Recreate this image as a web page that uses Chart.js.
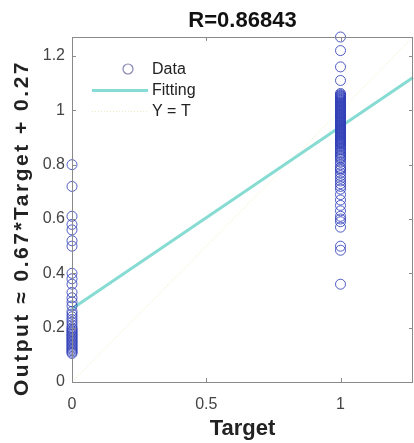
<!DOCTYPE html>
<html>
<head>
<meta charset="utf-8">
<script src="https://cdn.jsdelivr.net/npm/chart.js@4"></script>
<style>
  html, body { margin: 0; padding: 0; background: #fff; }
  #wrap { width: 414px; height: 443px; }
</style>
</head>
<body>
<div id="wrap"><canvas id="reg-chart" width="414" height="443"></canvas></div>
<script>
// values
const targetZero = 0;
const targetOne = 1;
const outputsAtZero = [0.80, 0.72, 0.61, 0.58, 0.56, 0.52, 0.50, 0.40, 0.38, 0.36, 0.33, 0.31,
  0.295, 0.28, 0.26, 0.25, 0.24, 0.23, 0.22, 0.21, 0.20, 0.195, 0.19, 0.185, 0.18, 0.175,
  0.17, 0.165, 0.16, 0.155, 0.15, 0.145, 0.14, 0.135, 0.13, 0.125, 0.12, 0.115, 0.11, 0.105];
const outputsAtOne = [1.27, 1.22, 1.16, 1.11, 1.062, 1.058, 1.055, 1.052, 1.05, 1.047, 1.045,
  1.042, 1.04, 1.037, 1.035, 1.032, 1.03, 1.027, 1.025, 1.022, 1.02, 1.017, 1.015, 1.012,
  1.01, 1.007, 1.005, 1.002, 1.0, 0.997, 0.995, 0.992, 0.99, 0.987, 0.985, 0.982, 0.98,
  0.977, 0.975, 0.972, 0.97, 0.967, 0.965, 0.962, 0.96, 0.957, 0.955, 0.952, 0.95, 0.947,
  0.945, 0.942, 0.94, 0.937, 0.935, 0.932, 0.93, 0.927, 0.925, 0.922, 0.92, 0.917, 0.915,
  0.912, 0.91, 0.907, 0.905, 0.902, 0.90, 0.897, 0.895, 0.892, 0.89, 0.887, 0.885, 0.882,
  0.88, 0.877, 0.875, 0.87, 0.865, 0.86, 0.855, 0.85, 0.845, 0.84, 0.835, 0.83, 0.825,
  0.82, 0.81, 0.80, 0.79, 0.785, 0.78, 0.77, 0.76, 0.75, 0.74, 0.73, 0.72, 0.71, 0.69,
  0.67, 0.65, 0.63, 0.61, 0.60, 0.59, 0.57, 0.50, 0.485, 0.36];
const fitX = [0, 1.27];
const fitY = [0.27, 1.121];
const identityX = [0, 1.27];
const identityY = [0, 1.27];
const axisMax = 1.27;
const titleText = 'R=0.86843';
const xTitle = 'Target';
const yTitle = 'Output \u2248 0.67*Target + 0.27';
const legendLabels = ['Data', 'Fitting', 'Y = T'];

const FONT = "'Liberation Sans', Arial, sans-serif";
const dataColor = 'rgba(50, 65, 185, 0.85)';
const fitColor = '#86dcd2';
const idColor = 'rgba(235, 225, 160, 0.7)';

const scatterPts = [
  ...outputsAtZero.map(v => ({ x: targetZero, y: v })),
  ...outputsAtOne.map(v => ({ x: targetOne, y: v }))
];

const fmt = v => String(+v.toFixed(2));

// MATLAB-ish box with inward ticks, legend and y title
const boxPlugin = {
  id: 'box',
  afterDraw(chart) {
    const { ctx, chartArea: a, scales } = chart;
    ctx.save();
    ctx.strokeStyle = '#8a8a8a';
    ctx.lineWidth = 1;
    ctx.strokeRect(a.left + 0.5, a.top + 0.5, a.right - a.left - 1, a.bottom - a.top);
    ctx.beginPath();
    scales.x.ticks.forEach(t => {
      const px = Math.round(scales.x.getPixelForValue(t.value)) + 0.5;
      ctx.moveTo(px, a.bottom); ctx.lineTo(px, a.bottom - 4);
      ctx.moveTo(px, a.top); ctx.lineTo(px, a.top + 4);
    });
    scales.y.ticks.forEach(t => {
      const py = Math.round(scales.y.getPixelForValue(t.value)) + 0.5;
      ctx.moveTo(a.left, py); ctx.lineTo(a.left + 4, py);
      ctx.moveTo(a.right, py); ctx.lineTo(a.right - 4, py);
    });
    ctx.stroke();

    // legend inside top-left
    const lx = a.left + 20, tx = a.left + 80;
    const rows = [a.top + 33, a.top + 53.5, a.top + 74.5];
    ctx.font = '16px ' + FONT;
    ctx.fillStyle = '#222';
    ctx.textBaseline = 'middle';
    legendLabels.forEach((lab, i) => ctx.fillText(lab, tx, rows[i]));
    ctx.strokeStyle = 'rgba(120, 120, 170, 0.9)';
    ctx.lineWidth = 1.2;
    ctx.beginPath();
    ctx.arc(a.left + 56, rows[0] - 1, 5, 0, Math.PI * 2);
    ctx.stroke();
    ctx.strokeStyle = fitColor;
    ctx.lineWidth = 3;
    ctx.beginPath();
    ctx.moveTo(lx, rows[1]); ctx.lineTo(tx - 4, rows[1]);
    ctx.stroke();
    ctx.strokeStyle = idColor;
    ctx.lineWidth = 1;
    ctx.setLineDash([1, 2]);
    ctx.beginPath();
    ctx.moveTo(lx, rows[2]); ctx.lineTo(tx - 4, rows[2]);
    ctx.stroke();
    ctx.setLineDash([]);

    // y axis title, spaced out like the original
    ctx.translate(22, 228);
    ctx.rotate(-Math.PI / 2);
    ctx.font = 'bold 21px ' + FONT;
    ctx.letterSpacing = '2.5px';
    ctx.textAlign = 'center';
    ctx.fillStyle = '#222';
    ctx.fillText(yTitle, 0, 0);
    ctx.restore();
  }
};

new Chart(document.getElementById('reg-chart'), {
  type: 'scatter',
  data: {
    datasets: [
      {
        label: legendLabels[2],
        data: identityX.map((x, i) => ({ x, y: identityY[i] })),
        showLine: true,
        borderColor: idColor,
        borderWidth: 1,
        borderDash: [1, 2],
        pointRadius: 0,
        order: 3
      },
      {
        label: legendLabels[1],
        data: fitX.map((x, i) => ({ x, y: fitY[i] })),
        showLine: true,
        borderColor: fitColor,
        borderWidth: 3,
        pointRadius: 0,
        order: 2
      },
      {
        label: legendLabels[0],
        data: scatterPts,
        pointStyle: 'circle',
        pointRadius: 5,
        pointBorderWidth: 1,
        borderColor: dataColor,
        backgroundColor: 'rgba(0,0,0,0)',
        order: 1
      }
    ]
  },
  options: {
    responsive: false,
    animation: false,
    clip: false,
    layout: { autoPadding: false, padding: { left: 0, right: 1, top: 0, bottom: 0 } },
    plugins: {
      legend: { display: false },
      tooltip: { enabled: false },
      title: {
        display: true,
        text: titleText,
        fullSize: false,
        color: '#111',
        font: { family: FONT, size: 22, weight: 'bold' },
        padding: { top: 8, bottom: 2.6 }
      }
    },
    scales: {
      x: {
        type: 'linear',
        min: 0,
        max: axisMax,
        afterFit: s => { s.height = 61; s.paddingRight = 0; s.paddingLeft = 0; },
        grid: { display: false, drawTicks: false },
        border: { display: false },
        ticks: {
          stepSize: 0.5,
          includeBounds: false,
          padding: 13,
          color: '#444',
          font: { family: FONT, size: 16 },
          callback: fmt
        },
        title: {
          display: true,
          text: xTitle,
          color: '#222',
          font: { family: FONT, size: 22, weight: 'bold' },
          padding: { top: 0, bottom: 1 }
        }
      },
      y: {
        type: 'linear',
        min: 0,
        max: axisMax,
        afterFit: s => { s.width = 72; },
        grid: { display: false, drawTicks: false },
        border: { display: false },
        ticks: {
          stepSize: 0.2,
          includeBounds: false,
          padding: 7,
          color: '#444',
          font: { family: FONT, size: 16 },
          callback: fmt
        },
        title: { display: false }
      }
    }
  },
  plugins: [boxPlugin]
});
</script>
</body>
</html>
